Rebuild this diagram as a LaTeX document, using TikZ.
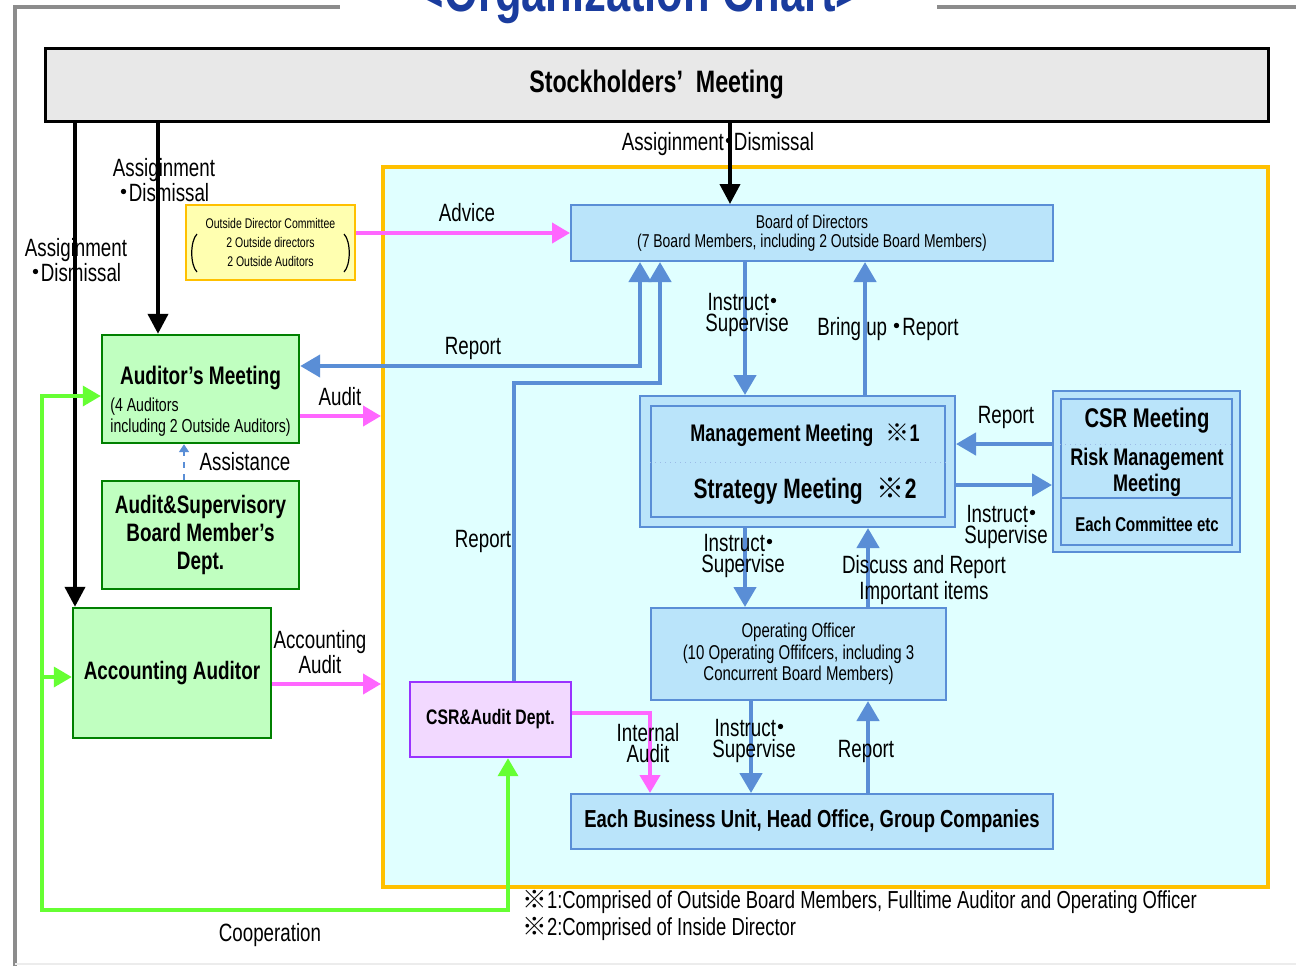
\documentclass[tikz,border=0pt]{standalone}
\usepackage{fontspec}
\setmainfont[FakeStretch=0.75]{Liberation Sans}
\newfontfamily\cjk{Noto Sans CJK JP}
\usetikzlibrary{arrows.meta}

\definecolor{titleblue}{HTML}{1A3C9E}
\definecolor{framegray}{HTML}{8C8C8C}
\definecolor{boxblue}{HTML}{BAE4FA}
\definecolor{lineblue}{HTML}{5A8ED6}
\definecolor{areacyan}{HTML}{E0FFFF}
\definecolor{areaorange}{HTML}{FFC000}
\definecolor{boxgreen}{HTML}{C0FFC0}
\definecolor{linegreen}{HTML}{008000}
\definecolor{coopgreen}{HTML}{66FF33}
\definecolor{auditpink}{HTML}{FF66FF}
\definecolor{odcyellow}{HTML}{FFFFB0}
\definecolor{csrpurple}{HTML}{F2D9FF}
\definecolor{csrline}{HTML}{9933FF}

\newcommand{\jdot}{{\cjk\hspace{-0.3em}・\hspace{-0.3em}}}
\newcommand{\kome}{{\cjk ※}}

\begin{document}
\begin{tikzpicture}[x=0.5pt,y=-0.5pt,
    bluebox/.style={draw=lineblue,fill=boxblue,line width=1pt,inner sep=0pt,align=center},
    greenbox/.style={draw=linegreen,fill=boxgreen,line width=1.2pt,inner sep=0pt,align=center},
    lbl/.style={inner sep=0pt,align=center,font=\fontsize{12.5}{10.5}\selectfont},
    blackarrow/.style={draw=black,line width=2pt,>={Triangle[width=10pt,length=10pt]},->},
    bluearrow/.style={draw=lineblue,line width=2.2pt,>={Triangle[width=11pt,length=10pt]},->},
    pinkarrow/.style={draw=auditpink,line width=2pt,>={Triangle[width=10pt,length=9pt]},->},
    greenarrow/.style={draw=coopgreen,line width=1.8pt,>={Triangle[width=10pt,length=9pt]},->}]
  \useasboundingbox (0,0) rectangle (1296,966);
  \fill[white] (0,0) rectangle (1296,966);

  % frame and title
  \draw[framegray,line width=2pt] (15,966) -- (15,7) -- (340,7);
  \draw[framegray,line width=2pt] (937,7) -- (1296,7);
  \draw[gray!15,line width=0.6pt] (15,964) -- (1296,964);
  \node[anchor=base,text=titleblue,font=\bfseries\fontsize{29}{29}\selectfont] (title) at (640,11) {<Organization Chart>};

  % stockholders
  \node[draw=black,fill=gray!18,line width=1.5pt,minimum width=611.5pt,minimum height=36.5pt,
        font=\bfseries\fontsize{15.5}{17}\selectfont] (stock) at (656.5,84.5) {Stockholders’\ \ Meeting};

  % company area
  \node[draw=areaorange,fill=areacyan,line width=2pt,minimum width=442.5pt,minimum height=360pt,inner sep=0pt] (area) at (825.5,527) {};

  % outside director committee
  \node[draw=areaorange,fill=odcyellow,line width=1pt,minimum width=84.5pt,minimum height=37.5pt,inner sep=0pt,
        align=center,font=\fontsize{7}{9.5}\selectfont] (odc) at (270.5,242.5) {Outside Director Committee\\2 Outside directors\\2 Outside Auditors};
  \draw[line width=0.6pt] (197,234) .. controls (190,241) and (190,265) .. (197,272);
  \draw[line width=0.6pt] (344,234) .. controls (351,241) and (351,265) .. (344,272);

  % boxes
  \node[bluebox,minimum width=241pt,minimum height=28pt,font=\fontsize{9.3}{9.5}\selectfont] (bod) at (812,233)
       {Board of Directors\\(7 Board Members, including 2 Outside Board Members)};
  \node[greenbox,minimum width=98.5pt,minimum height=54pt] (audm) at (200.5,389) {};
  \node[font=\bfseries\fontsize{12.7}{13}\selectfont] (audmtitle) at (200.5,378) {Auditor’s Meeting};
  \node[anchor=west,inner sep=0pt,font=\fontsize{9.4}{10}\selectfont] (audmline1) at (110,407) {(4 Auditors};
  \node[anchor=west,inner sep=0pt,font=\fontsize{9.4}{10}\selectfont] (audmline2) at (110,428) {including 2 Outside Auditors)};
  \node[greenbox,minimum width=98.5pt,minimum height=54pt,font=\bfseries\fontsize{12.6}{14.2}\selectfont] (asbd) at (200.5,535)
       {Audit\&Supervisory\\Board Member’s\\Dept.};
  \node[greenbox,minimum width=99pt,minimum height=65pt,font=\bfseries\fontsize{12.6}{14}\selectfont] (acca) at (172,673) {Accounting Auditor};

  \node[bluebox,minimum width=157.5pt,minimum height=65.5pt] (mgmt) at (797.5,461.5) {};
  \node[draw=lineblue,line width=1pt,minimum width=147pt,minimum height=55.5pt,inner sep=0pt] (mgmtin) at (798,461.5) {};
  \draw[lineblue!60,dotted,line width=0.5pt] (mgmtin.west |- 0,462) -- (mgmtin.east |- 0,462);
  \node[font=\bfseries\fontsize{12}{13}\selectfont] (mgmttext) at (805,435) {Management Meeting\enspace\kome1};
  \node[font=\bfseries\fontsize{14}{15}\selectfont] (strtext) at (805,491) {Strategy Meeting\enspace\kome2};

  \node[bluebox,minimum width=93.5pt,minimum height=80.5pt] (csrm) at (1146.5,471.5) {};
  \node[draw=lineblue,line width=1pt,minimum width=85.5pt,minimum height=73pt,inner sep=0pt] (csrmin) at (1146.5,472) {};
  \draw[lineblue!60,dotted,line width=0.5pt] (csrmin.west |- 0,444) -- (csrmin.east |- 0,444);
  \draw[lineblue,line width=1pt] (csrmin.west |- 0,498) -- (csrmin.east |- 0,498);
  \node[font=\bfseries\fontsize{13.5}{14}\selectfont] (csrtext) at (1147,421) {CSR Meeting};
  \node[align=center,font=\bfseries\fontsize{12}{13}\selectfont] (risktext) at (1147,472) {Risk Management\\Meeting};
  \node[font=\bfseries\fontsize{10}{12}\selectfont] (cmttext) at (1147,524) {Each Committee etc};

  \node[bluebox,minimum width=147.5pt,minimum height=46pt,font=\fontsize{10}{10.75}\selectfont] (oo) at (798.5,654)
       {Operating Officer\\(10 Operating Offifcers, including 3\\Concurrent Board Members)};
  \node[bluebox,minimum width=241pt,minimum height=27.5pt,font=\bfseries\fontsize{12.3}{13}\selectfont] (ebu) at (812,821.5)
       {Each Business Unit, Head Office, Group Companies};
  \node[draw=csrline,fill=csrpurple,line width=1.2pt,minimum width=80.5pt,minimum height=37.5pt,inner sep=0pt,
        font=\bfseries\fontsize{10.5}{12}\selectfont] (csra) at (490.5,719.5) {CSR\&Audit Dept.};

  % assignment / dismissal
  \draw[blackarrow] (stock.south -| 75,0) -- (acca.north -| 75,0);
  \draw[blackarrow] (stock.south -| 158,0) -- (audm.north -| 158,0);
  \draw[blackarrow] (stock.south -| 730,0) -- (bod.north -| 730,0);

  % audit lines
  \draw[pinkarrow] (odc.east |- 0,233) -- (bod.west |- 0,233);
  \draw[pinkarrow] (audm.east |- 0,416) -- (area.west |- 0,416);
  \draw[pinkarrow] (acca.east |- 0,684) -- (area.west |- 0,684);
  \draw[pinkarrow] (csra.east |- 0,713) -| (ebu.north -| 650,0);

  % reporting lines
  \draw[bluearrow,<->] (audm.east |- 0,366) -| (bod.south -| 640,0);
  \draw[bluearrow] (csra.north -| 514,0) |- (660,383) -- (bod.south -| 660,0);
  \draw[bluearrow] (bod.south -| 745,0) -- (mgmt.north -| 745,0);
  \draw[bluearrow] (mgmt.north -| 865,0) -- (bod.south -| 865,0);
  \draw[bluearrow] (csrm.west |- 0,444) -- (mgmt.east |- 0,444);
  \draw[bluearrow] (mgmt.east |- 0,485) -- (csrm.west |- 0,485);
  \draw[bluearrow] (mgmt.south -| 745,0) -- (oo.north -| 745,0);
  \draw[bluearrow] (oo.north -| 868,0) -- (mgmt.south -| 868,0);
  \draw[bluearrow] (oo.south -| 751,0) -- (ebu.north -| 751,0);
  \draw[bluearrow] (ebu.north -| 868,0) -- (oo.south -| 868,0);
  \draw[lineblue,dashed,line width=0.8pt,-{Triangle[width=5pt,length=4pt]}] (asbd.north -| 184,0) -- (audm.south -| 184,0);

  % cooperation
  \coordinate (coop) at (42,910);
  \draw[greenarrow,<->] (audm.west |- 0,396) -| (coop) -| (csra.south -| 508,0);
  \draw[greenarrow] (coop |- 0,677) -- (acca.west |- 0,677);

  % labels
  \node[lbl] (l1) at (164,180) {Assiginment\\\jdot Dismissal};
  \node[lbl] (l2) at (76,260) {Assiginment\\\jdot Dismissal};
  \node[lbl] (l3) at (718,144) {Assiginment\jdot Dismissal};
  \node[lbl] (l4) at (467,213) {Advice};
  \node[lbl] (l5) at (473,348) {Report};
  \node[lbl] (l6) at (340,397) {Audit};
  \node[lbl] (l7) at (747,315) {Instruct\jdot\\Supervise};
  \node[lbl] (l8) at (888,329) {Bring up \jdot Report};
  \node[lbl] (l9) at (1006,417) {Report};
  \node[lbl] (l10) at (1006,527) {Instruct\jdot\\Supervise};
  \node[lbl] (l11) at (245,462) {Assistance};
  \node[lbl] (l12) at (483,541) {Report};
  \node[lbl] (l13) at (743,556) {Instruct\jdot\\Supervise};
  \node[lbl] (l14) at (924,580) {Discuss and Report\\Important items};
  \node[lbl] (l15) at (320,652) {Accounting\\Audit};
  \node[lbl] (l16) at (648,743) {Internal\\Audit};
  \node[lbl] (l17) at (754,741) {Instruct\jdot\\Supervise};
  \node[lbl] (l18) at (866,751) {Report};
  \node[lbl] (l19) at (270,935) {Cooperation};
  \node[anchor=west,inner sep=0pt,font=\fontsize{12.3}{13}\selectfont] (note1) at (522,902)
       {\kome1:Comprised of Outside Board Members, Fulltime Auditor and Operating Officer};
  \node[anchor=west,inner sep=0pt,font=\fontsize{12.3}{13}\selectfont] (note2) at (522,929)
       {\kome2:Comprised of Inside Director};
\end{tikzpicture}
\end{document}
